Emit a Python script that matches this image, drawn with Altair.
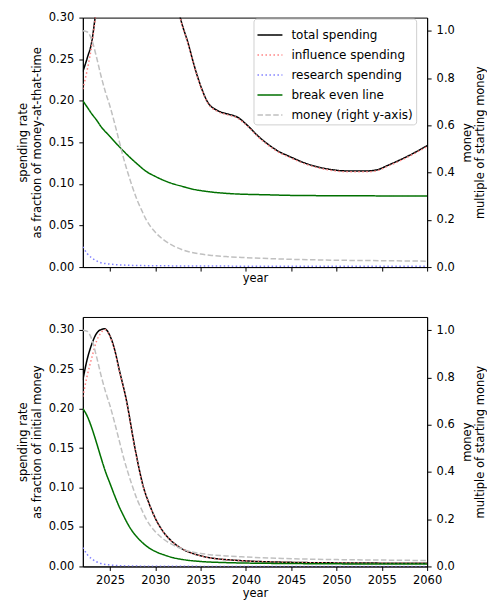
import altair as alt
import pandas as pd

SERIES = ["total spending", "influence spending", "research spending",
          "break even line", "money (right y-axis)"]
COLORS = ["#000000", "#ff8080", "#8080ff", "#007000", "#c0c0c0"]
DASHES = [[1, 0], [1.5, 2.5], [1.5, 2.5], [1, 0], [5.5, 2.4]]

# ---------------- top panel: fraction of money-at-that-time ----------------
top_total_years = [2022, 2022.5, 2023, 2023.35, 2024, 2025, 2026, 2027, 2028, 2029,
                   2030, 2031, 2032, 2032.8, 2033.6, 2034.3, 2035, 2035.8, 2036.9,
                   2038, 2039.1, 2040.2, 2041.3, 2042.4, 2043.8, 2044.6, 2046.8,
                   2049, 2051.2, 2053.4, 2054.5, 2055.6, 2057.8, 2060]
top_total = [0.235, 0.252, 0.272, 0.300, 0.37, 0.43, 0.47, 0.49, 0.48, 0.45,
             0.43, 0.38, 0.34, 0.298, 0.270, 0.242, 0.218, 0.198, 0.188,
             0.184, 0.180, 0.170, 0.158, 0.148, 0.138, 0.134, 0.124,
             0.118, 0.1156, 0.1156, 0.117, 0.122, 0.133, 0.146]
top_influence = [0.214, 0.238, 0.268, 0.297, 0.368, 0.428, 0.468, 0.488, 0.478, 0.448,
                 0.428, 0.379, 0.339, 0.297, 0.269, 0.241, 0.217, 0.197, 0.187,
                 0.183, 0.179, 0.169, 0.157, 0.147, 0.137, 0.133, 0.123,
                 0.117, 0.1146, 0.1146, 0.116, 0.121, 0.132, 0.145]
top_research_years = [2022, 2022.5, 2023, 2023.5, 2024, 2024.5, 2025, 2026, 2027,
                      2028, 2030, 2035, 2040, 2050, 2060]
top_research = [0.0244, 0.016, 0.011, 0.0075, 0.0052, 0.0042, 0.0035, 0.0027, 0.0022,
                0.0019, 0.0016, 0.0013, 0.0011, 0.001, 0.001]
top_break_years = [2022, 2022.5, 2023, 2023.5, 2024, 2025, 2026, 2027, 2028, 2029,
                   2030, 2031, 2032, 2033, 2034, 2035, 2036, 2038, 2040, 2042,
                   2045, 2050, 2055, 2060]
top_break = [0.200, 0.192, 0.184, 0.177, 0.169, 0.157, 0.145, 0.134, 0.124, 0.115,
             0.109, 0.104, 0.100, 0.097, 0.094, 0.092, 0.0905, 0.0885, 0.0875, 0.087,
             0.0862, 0.0858, 0.0856, 0.0855]

# ---------------- money (right axis, both panels) ----------------
money_years = [2022, 2022.5, 2023, 2023.5, 2024, 2024.5, 2025, 2025.5, 2026, 2026.5,
               2027, 2027.5, 2028, 2028.5, 2029, 2029.5, 2030, 2031, 2032, 2033,
               2034, 2035, 2036, 2038, 2040, 2044, 2050, 2055, 2060]
money = [1.0, 0.995, 0.96, 0.89, 0.81, 0.74, 0.68, 0.61, 0.535, 0.46,
         0.395, 0.336, 0.283, 0.24, 0.20, 0.17, 0.147, 0.113, 0.09, 0.073,
         0.062, 0.055, 0.05, 0.044, 0.040, 0.034, 0.029, 0.027, 0.025]

# ---------------- bottom panel: fraction of initial money ----------------
bot_total_years = [2022, 2022.45, 2023, 2023.5, 2024, 2024.4, 2025, 2025.5, 2026,
                   2026.8, 2027.75, 2028.7, 2029.3, 2030, 2031, 2032, 2033, 2034,
                   2035, 2036, 2037, 2038, 2040, 2045, 2050, 2055, 2060]
bot_total = [0.236, 0.261, 0.282, 0.295, 0.300, 0.301, 0.292, 0.275, 0.250,
             0.211, 0.150, 0.100, 0.080, 0.061, 0.042, 0.030, 0.022, 0.017,
             0.0135, 0.011, 0.0095, 0.0085, 0.007, 0.0052, 0.0045, 0.0042, 0.004]
bot_influence = [0.215, 0.240, 0.265, 0.285, 0.296, 0.300, 0.291, 0.274, 0.249,
                 0.210, 0.149, 0.0995, 0.0795, 0.0607, 0.0418, 0.0299, 0.0219, 0.0169,
                 0.0134, 0.0109, 0.0094, 0.0084, 0.0069, 0.0051, 0.0044, 0.0041, 0.0039]
bot_research_years = [2022, 2022.5, 2023, 2023.5, 2024, 2025, 2026, 2027, 2030, 2035, 2060]
bot_research = [0.024, 0.015, 0.0095, 0.006, 0.0037, 0.0018, 0.001, 0.0006, 0.0003,
                0.0001, 0.00003]
bot_break_years = [2022, 2022.5, 2023, 2023.5, 2024, 2024.5, 2025, 2025.5, 2026, 2026.5,
                   2027, 2027.5, 2028, 2028.5, 2029, 2030, 2031, 2032, 2033, 2034,
                   2035, 2036, 2038, 2040, 2045, 2050, 2055, 2060]
bot_break = [0.200, 0.190, 0.175, 0.157, 0.138, 0.120, 0.105, 0.090, 0.076, 0.064,
             0.053, 0.044, 0.037, 0.031, 0.026, 0.019, 0.0145, 0.011, 0.0088, 0.0073,
             0.0063, 0.0056, 0.0048, 0.0043, 0.0037, 0.0033, 0.0031, 0.003]

x_ticks = [2025, 2030, 2035, 2040, 2045, 2050, 2055, 2060]
left_ticks = [0.0, 0.05, 0.10, 0.15, 0.20, 0.25, 0.30]
right_ticks = [0.0, 0.2, 0.4, 0.6, 0.8, 1.0]


def long_df(pairs):
    rows = []
    for name, yrs, vals in pairs:
        for y, v in zip(yrs, vals):
            rows.append({"series": name, "year": y, "value": v})
    return pd.DataFrame(rows)


df_top = long_df([
    (SERIES[0], top_total_years, top_total),
    (SERIES[1], top_total_years, top_influence),
    (SERIES[2], top_research_years, top_research),
    (SERIES[3], top_break_years, top_break),
    (SERIES[4], money_years, money),
])
df_bot = long_df([
    (SERIES[0], bot_total_years, bot_total),
    (SERIES[1], bot_total_years, bot_influence),
    (SERIES[2], bot_research_years, bot_research),
    (SERIES[3], bot_break_years, bot_break),
    (SERIES[4], money_years, money),
])


def panel(df, ymax, ytitle, xlabels, legend):
    x = alt.X("year:Q",
              scale=alt.Scale(domain=[2022, 2060], nice=False, zero=False),
              axis=alt.Axis(values=x_ticks, labels=xlabels, format="d", title="year",
                            labelFlush=False, labelPadding=4,
                            titlePadding=(2 if xlabels else 1)))
    color = alt.Color("series:N", scale=alt.Scale(domain=SERIES, range=COLORS),
                      legend=legend)
    dash = alt.StrokeDash("series:N", scale=alt.Scale(domain=SERIES, range=DASHES),
                          legend=legend)
    yl = alt.Y("value:Q", scale=alt.Scale(domain=[0, ymax], nice=False, zero=True),
               axis=alt.Axis(values=left_ticks, format=".2f", title=ytitle,
                             titlePadding=6, titleLineHeight=13.5))
    yr = alt.Y("value:Q", scale=alt.Scale(domain=[0, 1.056], nice=False, zero=True),
               axis=alt.Axis(values=right_ticks, format=".1f", orient="right",
                             title=["money", "multiple of starting money"],
                             titleAngle=270, titleBaseline="top", titleX=34,
                             titleLineHeight=13.5))
    layers = []
    for s in SERIES[:4]:
        layers.append(
            alt.Chart(df).transform_filter(alt.datum.series == s)
            .mark_line(strokeWidth=1.5, clip=True, interpolate="monotone")
            .encode(x=x, y=yl, color=color, strokeDash=dash)
        )
    left = alt.layer(*layers)
    right = (
        alt.Chart(df).transform_filter(alt.datum.series == SERIES[4])
        .mark_line(strokeWidth=1.5, clip=True, interpolate="monotone")
        .encode(x=x, y=yr, color=color, strokeDash=dash)
    )
    return alt.layer(left, right).resolve_scale(y="independent").properties(
        width=345, height=250)


legend_top = alt.Legend(title=None, orient="none", legendX=171, legendY=1,
                        fillColor="white", strokeColor="#d0d0d0", cornerRadius=3,
                        padding=3, labelFontSize=12, labelFont="DejaVu Sans",
                        labelColor="black", symbolType="stroke", symbolSize=625,
                        symbolStrokeWidth=1.5, labelOffset=8, rowPadding=-2)

top = panel(df_top, 0.30, ["spending rate", "as fraction of money-at-that-time"],
            False, legend_top)
bottom = panel(df_bot, 0.316, ["spending rate", "as fraction of initial money"],
               True, None)

chart = (
    alt.vconcat(top, bottom, spacing=31)
    .resolve_scale(color="independent", strokeDash="independent")
    .resolve_legend(color="independent", strokeDash="independent")
    .properties(padding={"left": 9, "top": 2, "right": 0, "bottom": 0})
    .configure(font="DejaVu Sans")
    .configure_axis(labelFont="DejaVu Sans", titleFont="DejaVu Sans",
                    labelFontSize=11.5, titleFontSize=11.5, titleFontWeight="normal",
                    labelColor="black", titleColor="black", domainColor="black",
                    tickColor="black", tickSize=4, labelPadding=5, grid=False,
                    domainWidth=1, tickWidth=1)
    .configure_view(stroke="black", strokeWidth=1)
)

chart.save("out.html", embed_options={"renderer": "svg", "actions": False})
